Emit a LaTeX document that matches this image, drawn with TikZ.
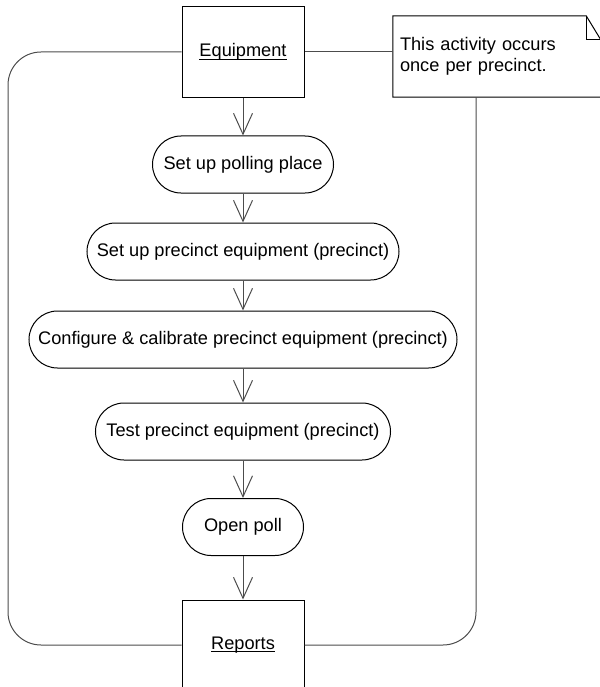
\documentclass[tikz,border=0pt]{standalone}
\usepackage{fontspec}
\setmainfont{Liberation Sans}
\usetikzlibrary{arrows.meta}

% underline drawn just below the baseline
\newcommand{\objname}[1]{\setbox0\hbox{#1}\rlap{\rule[-3bp]{\wd0}{0.9bp}}\box0}

\tikzset{
  actbox/.style={draw=black, line width=1bp, rounded corners=28.5bp,
    minimum height=57bp, inner xsep=0pt, inner ysep=0pt, fill=white},
  objbox/.style={draw=black, line width=1bp, minimum width=122bp,
    minimum height=90bp, inner sep=0pt, fill=white},
  flow/.style={draw=black!70, line width=1bp,
    -{Straight Barb[length=21bp, width=19bp, line width=1bp]}},
  swimline/.style={draw=black!70, line width=1bp, rounded corners=33bp},
  notetext/.style={minimum width=207.6bp, minimum height=81bp,
    text width=193.6bp, inner xsep=7bp, inner ysep=0pt, align=left},
  noteline/.style={draw=black, line width=1bp, line join=miter}
}

\begin{document}
\begin{tikzpicture}[x=1bp, y=-1bp,
    font=\fontsize{18.2bp}{21bp}\selectfont]
  \useasboundingbox (0,0) rectangle (600,687);

  % object flow boxes
  \node[objbox] (eq)  at (243,52)  {\objname{Equipment}};
  \node[objbox] (rep) at (243,645) {\objname{Reports}};

  % activities
  \node[actbox, minimum width=181bp] (a1) at (243,164.5) {Set up polling place};
  \node[actbox, minimum width=312bp] (a2) at (243,251.5) {Set up precinct equipment (precinct)};
  \node[actbox, minimum width=428bp] (a3) at (243,339.5) {Configure \& calibrate precinct equipment (precinct)};
  \node[actbox, minimum width=295bp] (a4) at (243,431.5) {Test precinct equipment (precinct)};
  \node[actbox, minimum width=121bp] (a5) at (243,527) {Open poll};

  % comment note with folded corner
  \node[notetext] (note) at (496.8,56.5) {This activity occurs\\once per precinct.};
  \draw[noteline] (note.north west) -- ([xshift=-14.6bp]note.north east)
    -- ([yshift=-24bp]note.north east) -- (note.south east)
    -- (note.south west) -- cycle;
  \draw[noteline] ([xshift=-14.6bp]note.north east)
    -- ([xshift=-14.6bp,yshift=-24bp]note.north east)
    -- ([yshift=-24bp]note.north east);

  % columns of the enclosing flow
  \coordinate (lcol) at (8,300);
  \coordinate (rcol) at (476,300);

  \draw[swimline] (eq.west) -| (lcol) |- (rep.west);
  \draw[swimline] (rcol |- note.south) |- (rep.east);
  \draw[draw=black!70, line width=1bp] (eq.east) -- (eq.east -| note.west);

  % control flow
  \draw[flow] (eq.south) -- (a1.north);
  \draw[flow] (a1.south) -- (a2.north);
  \draw[flow] (a2.south) -- (a3.north);
  \draw[flow] (a3.south) -- (a4.north);
  \draw[flow] (a4.south) -- (a5.north);
  \draw[flow] (a5.south) -- (rep.north);
\end{tikzpicture}
\end{document}
